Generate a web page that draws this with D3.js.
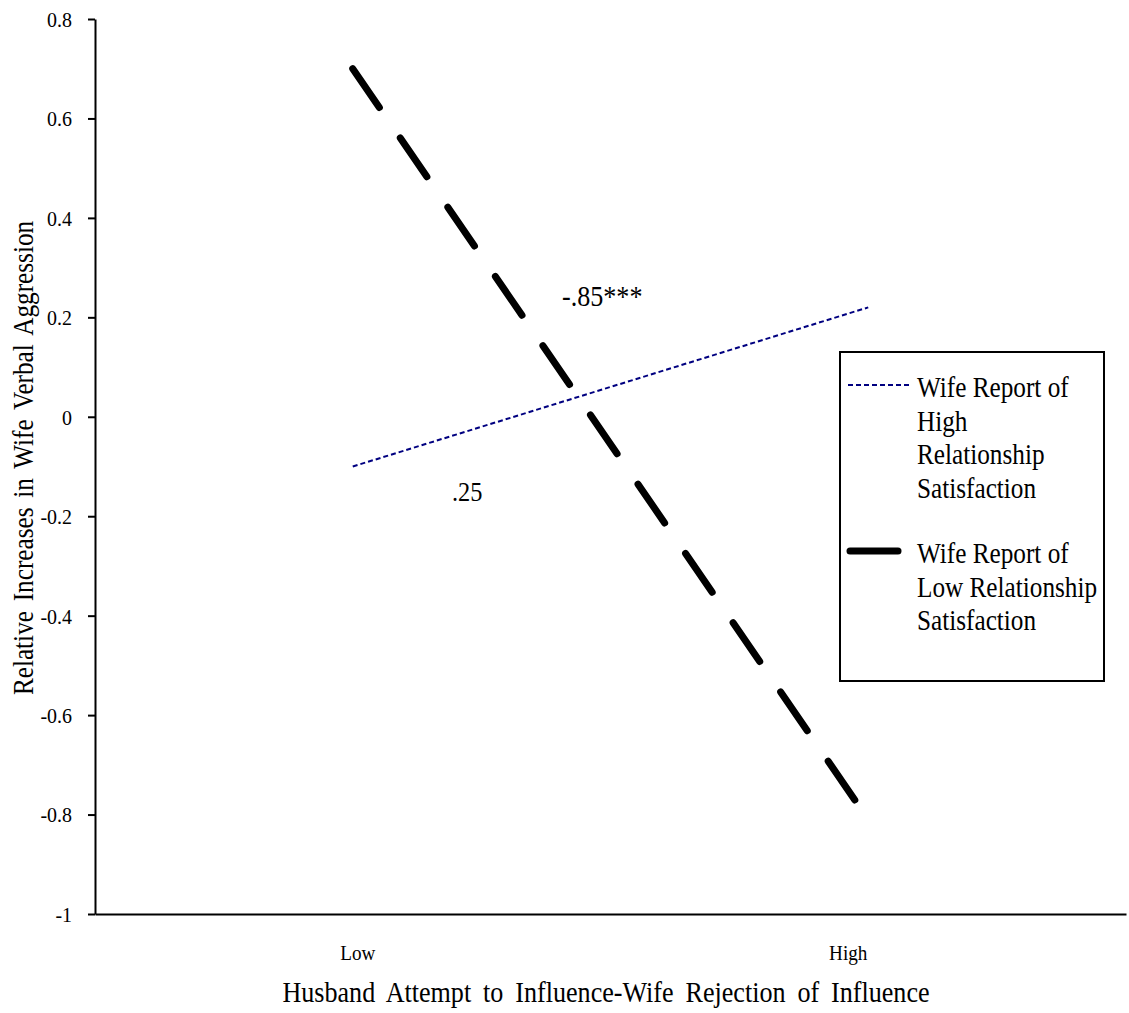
<!DOCTYPE html>
<html>
<head>
<meta charset="utf-8">
<script src="https://cdn.jsdelivr.net/npm/d3@7"></script>
<style>
  html, body { margin: 0; padding: 0; background: #fff; }
  svg { display: block; }
  text { font-family: "Liberation Serif", "Times New Roman", serif; fill: #000; }
</style>
</head>
<body>
<svg id="chart" width="1129" height="1013"></svg>
<script>
// Categories on the x axis
const categories = ["Low", "High"];

// Simple slopes: predicted change at low / high rejection of influence
const highSatValues = [-0.10, 0.22];   // wife report of high relationship satisfaction
const lowSatValues  = [0.70, -0.81];   // wife report of low relationship satisfaction

// Y axis ticks
const yTicks = [-1, -0.8, -0.6, -0.4, -0.2, 0, 0.2, 0.4, 0.6, 0.8];
const yTickLabels = ["-1", "-0.8", "-0.6", "-0.4", "-0.2", "0", "0.2", "0.4", "0.6", "0.8"];

// Slope annotations
const slopeLabels = ["-.85***", ".25"];

// Legend entries (wrapped text)
const legendLines = [
  ["Wife Report of", "High", "Relationship", "Satisfaction"],
  ["Wife Report of", "Low Relationship", "Satisfaction"]
];

const xTitle = "Husband Attempt to Influence-Wife Rejection of Influence";
const yTitle = "Relative Increases in Wife Verbal Aggression";

// ---- layout ----
const plot = { left: 95, right: 1126, top: 19, bottom: 914 };
const condense = 0.87; // narrow serif face

const svg = d3.select("#chart");

const x = d3.scaleBand().domain(categories).range([plot.left, plot.right]).padding(0);
const xc = c => x(c) + x.bandwidth() / 2;
const y = d3.scaleLinear().domain([-1, 0.8]).range([plot.bottom, plot.top]);

// Y axis
const yAxis = d3.axisLeft(y)
  .tickValues(yTicks)
  .tickFormat((d, i) => yTickLabels[i])
  .tickSize(7)
  .tickSizeOuter(0)
  .tickPadding(0);

const gy = svg.append("g")
  .attr("transform", `translate(${plot.left},0)`)
  .call(yAxis);
gy.attr("font-family", null).attr("font-size", null);
gy.select(".domain").attr("stroke", "#000").attr("stroke-width", 2);
gy.selectAll(".tick line").attr("stroke", "#000").attr("stroke-width", 2);
gy.selectAll(".tick text")
  .attr("x", null)
  .attr("dy", "0.35em")
  .attr("style", "font-family:'Liberation Serif',serif;font-size:21px")
  .attr("transform", `translate(-23,0) scale(0.95,1)`)
  .attr("fill", "#000");

// X axis line (no tick marks)
const xAxis = d3.axisBottom(x).tickSize(0).tickSizeOuter(0).tickFormat("");
const gx = svg.append("g").attr("transform", `translate(0,${plot.bottom})`).call(xAxis);
gx.select(".domain").attr("stroke", "#000").attr("stroke-width", 2);
gx.selectAll(".tick text").remove();

// Category labels
const catNudge = { Low: 5, High: -20 };
svg.selectAll("text.cat")
  .data(categories)
  .join("text")
  .attr("class", "cat")
  .attr("text-anchor", "middle")
  .attr("font-size", 22)
  .attr("transform", d => `translate(${xc(d) + catNudge[d]},960) scale(${condense},1)`)
  .text(d => d);

// Lines
const line = d3.line().x(d => xc(d.c)).y(d => y(d.v));
const toPts = vals => categories.map((c, i) => ({ c, v: vals[i] }));

svg.append("path")
  .datum(toPts(highSatValues))
  .attr("d", line)
  .attr("fill", "none")
  .attr("stroke", "#000080")
  .attr("stroke-width", 2)
  .attr("stroke-dasharray", "5,3");

svg.append("path")
  .datum(toPts(lowSatValues))
  .attr("d", line)
  .attr("fill", "none")
  .attr("stroke", "#000")
  .attr("stroke-width", 7)
  .attr("stroke-linecap", "round")
  .attr("stroke-dasharray", "47,37");

// Slope annotations
svg.append("text")
  .attr("font-size", 30)
  .attr("transform", `translate(562,306) scale(${condense},1)`)
  .text(slopeLabels[0]);
svg.append("text")
  .attr("font-size", 28)
  .attr("transform", `translate(452,501) scale(${condense},1)`)
  .text(slopeLabels[1]);

// Axis titles
svg.append("text")
  .attr("text-anchor", "middle")
  .attr("font-size", 29)
  .attr("word-spacing", 6)
  .attr("transform", `translate(606,1002) scale(0.9,1)`)
  .text(xTitle);

svg.append("text")
  .attr("text-anchor", "middle")
  .attr("font-size", 29)
  .attr("word-spacing", 4)
  .attr("transform", `translate(33,458) rotate(-90) scale(${condense},1)`)
  .text(yTitle);

// Legend
const lg = svg.append("g");
lg.append("rect")
  .attr("x", 840).attr("y", 352)
  .attr("width", 264).attr("height", 329)
  .attr("fill", "#fff").attr("stroke", "#000").attr("stroke-width", 2);

lg.append("line")
  .attr("x1", 848).attr("x2", 909).attr("y1", 385).attr("y2", 385)
  .attr("stroke", "#000080").attr("stroke-width", 2).attr("stroke-dasharray", "5,3");
lg.append("line")
  .attr("x1", 850).attr("x2", 898).attr("y1", 551).attr("y2", 551)
  .attr("stroke", "#000").attr("stroke-width", 7).attr("stroke-linecap", "round");

const legendStart = [397, 563];
legendLines.forEach((lines, k) => {
  lines.forEach((t, j) => {
    lg.append("text")
      .attr("font-size", 29)
      .attr("transform", `translate(917,${legendStart[k] + j * 33.5}) scale(${condense},1)`)
      .text(t);
  });
});
</script>
</body>
</html>
